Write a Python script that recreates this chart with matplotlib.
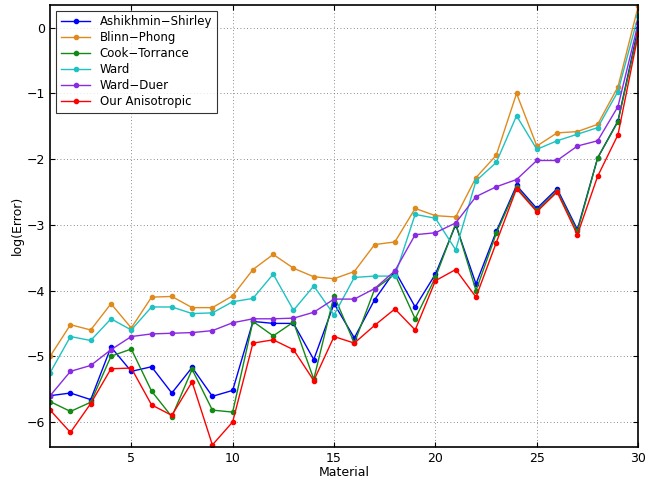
import matplotlib
matplotlib.use("Agg")
import matplotlib.pyplot as plt
import numpy as np

material = list(range(1, 31))
ashikhmin = [-5.6,-5.56,-5.66,-4.86,-5.23,-5.16,-5.56,-5.17,-5.61,-5.52,-4.47,-4.5,-4.5,-5.05,-4.2,-4.72,-4.14,-3.7,-4.25,-3.75,-3.0,-3.9,-3.1,-2.4,-2.75,-2.45,-3.07,-1.98,-1.42,0.0]
blinn = [-5.0,-4.52,-4.6,-4.2,-4.57,-4.1,-4.09,-4.26,-4.26,-4.08,-3.68,-3.45,-3.66,-3.79,-3.82,-3.71,-3.3,-3.26,-2.75,-2.86,-2.88,-2.28,-1.94,-1.0,-1.8,-1.6,-1.58,-1.47,-0.9,0.33]
cook = [-5.69,-5.84,-5.7,-5.0,-4.89,-5.53,-5.92,-5.2,-5.82,-5.85,-4.47,-4.69,-4.48,-5.35,-4.08,-4.8,-3.98,-3.75,-4.43,-3.8,-2.98,-4.0,-3.13,-2.43,-2.78,-2.48,-3.1,-1.98,-1.43,-0.05]
ward = [-5.25,-4.7,-4.76,-4.43,-4.6,-4.25,-4.25,-4.35,-4.34,-4.17,-4.12,-3.75,-4.3,-3.93,-4.37,-3.8,-3.78,-3.78,-2.84,-2.9,-3.38,-2.33,-2.05,-1.34,-1.85,-1.72,-1.62,-1.52,-0.97,0.18]
ward_duer = [-5.6,-5.23,-5.14,-4.9,-4.7,-4.66,-4.65,-4.64,-4.61,-4.49,-4.43,-4.43,-4.42,-4.33,-4.13,-4.13,-3.97,-3.7,-3.15,-3.12,-2.97,-2.57,-2.42,-2.31,-2.02,-2.02,-1.8,-1.72,-1.2,0.07]
ours = [-5.82,-6.16,-5.72,-5.19,-5.18,-5.74,-5.9,-5.39,-6.35,-6.0,-4.8,-4.75,-4.9,-5.37,-4.7,-4.8,-4.53,-4.28,-4.6,-3.85,-3.68,-4.1,-3.27,-2.45,-2.8,-2.5,-3.15,-2.26,-1.63,-0.1]

series = [("Ashikhmin\u2212Shirley", ashikhmin, "#0000ff"),
          ("Blinn\u2212Phong", blinn, "#e08a1e"),
          ("Cook\u2212Torrance", cook, "#138a13"),
          ("Ward", ward, "#1fc2c2"),
          ("Ward\u2212Duer", ward_duer, "#8a2be2"),
          ("Our Anisotropic", ours, "#ff0000")]

fig = plt.figure(figsize=(6.6, 4.79), dpi=100)
ax = fig.add_axes([0.076, 0.067, 0.891, 0.923])
for name, vals, c in series:
    ax.plot(material, vals, '-o', color=c, ms=3, lw=1, label=name)
ax.set_xlim(1, 30)
ax.set_ylim(-6.38, 0.35)
ax.set_xticks([5, 10, 15, 20, 25, 30])
ax.set_yticks([-6, -5, -4, -3, -2, -1, 0])
ax.grid(True, linestyle=(0, (1, 3)), color='#666666', lw=0.6)
ax.tick_params(direction='in', labelsize=9, top=True, right=True)
for s in ax.spines.values():
    s.set_linewidth(1.2)
ax.set_xlabel("Material", fontsize=9, labelpad=1)
ax.set_ylabel("log(Error)", fontsize=9, labelpad=2)
leg = ax.legend(loc='upper left', fontsize=8.5, fancybox=False, edgecolor='black',
                borderaxespad=0.5, handlelength=2.5, labelspacing=0.25)
leg.get_frame().set_linewidth(0.8)
fig.savefig("out.png", dpi=100)
